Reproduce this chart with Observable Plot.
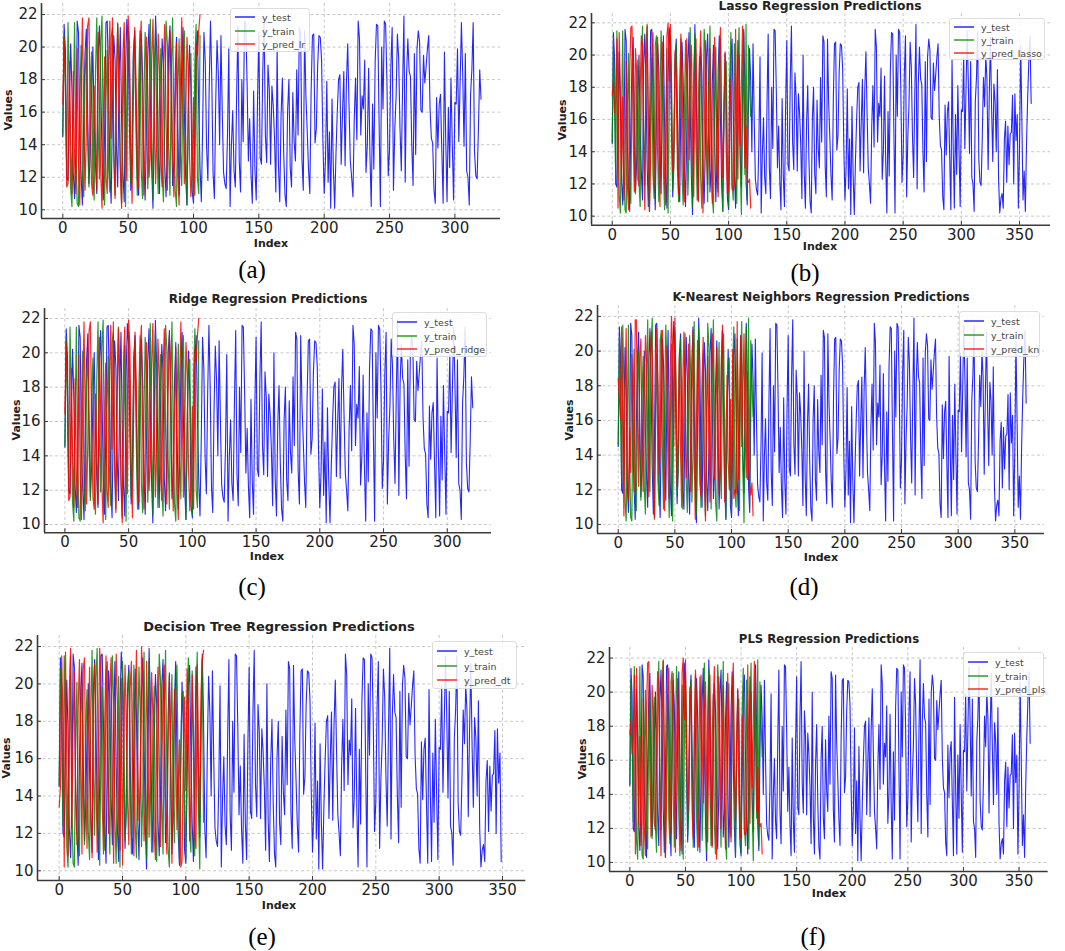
<!DOCTYPE html>
<html>
<head>
<meta charset="utf-8">
<script src="https://cdn.jsdelivr.net/npm/d3@7"></script>
<script src="https://cdn.jsdelivr.net/npm/@observablehq/plot@0.6"></script>
<style>
  html, body { margin: 0; padding: 0; background: #fff; }
  #page { position: relative; width: 1065px; height: 951px; overflow: hidden; background: #fff; font-family: "DejaVu Sans", sans-serif; }
  .ctr { position: absolute; transform: translate(-50%, -50%); white-space: nowrap; }
  .title { font-weight: bold; color: #222; }
  .axlab { font-weight: bold; color: #222; font-size: 11px; }
  .sub { font-family: "Liberation Serif", "Times New Roman", serif; font-size: 25px; color: #000; }
  .legend { position: absolute; background: rgba(255,255,255,0.85); border: 1px solid #ddd; border-radius: 3px; box-sizing: border-box; }
  .sw { position: absolute; left: 4px; }
  .lt { position: absolute; left: 31px; transform: translateY(-50%); font-size: 9.5px; color: #444; white-space: nowrap; }
</style>
</head>
<body>
<div id="page"></div>
<script>
// ---------- data (estimated) ----------
const yTest = [
  14.5, 21.4, 19.8, 12.0, 11.8, 16.4, 20.2, 17.4, 12.3, 10.7,
  13.6, 21.6, 20.9, 14.2, 12.1, 10.3, 15.8, 19.6, 21.1, 16.0,
  11.6, 13.4, 17.2, 20.0, 15.3, 12.8, 11.0, 19.4, 21.3, 18.1,
  13.2, 10.6, 14.8, 21.5, 21.6, 17.8, 12.4, 10.4, 16.2, 20.7,
  19.2, 14.0, 11.4, 17.9, 21.2, 15.6, 12.2, 10.5, 18.6, 21.7,
  20.4, 15.1, 11.2, 13.8, 19.7, 21.0, 16.5, 11.9, 10.9, 17.3,
  20.8, 18.4, 13.0, 10.6, 14.9, 19.5, 21.4, 16.8, 12.5, 10.1,
  15.4, 21.9, 19.3, 13.6, 11.0, 16.7, 20.5, 18.9, 12.7, 10.8,
  14.1, 19.9, 21.3, 17.0, 11.5, 12.9, 18.3, 20.6, 15.2, 10.9,
  13.3, 19.0, 21.2, 16.1, 12.0, 10.3, 15.9, 20.1, 17.6, 11.1,
  10.4, 14.6, 19.8, 21.0, 16.3, 12.6, 10.5, 15.0, 20.9, 19.1,
  13.9, 11.8, 17.5, 21.6, 18.0, 12.2, 10.7, 16.6, 20.4, 18.4,
  14.0, 20.7, 16.1, 12.3, 11.6, 11.3, 14.5, 19.9, 10.2, 13.9,
  16.1, 12.4, 11.4, 17.0, 21.3, 13.0, 11.1, 18.0, 14.2, 21.6,
  21.5, 17.8, 13.0, 15.6, 12.2, 10.4, 17.3, 12.5, 10.6, 16.8,
  20.9, 13.2, 12.8, 18.5, 21.8, 14.6, 12.9, 18.9, 17.4, 12.8,
  17.6, 16.4, 14.4, 11.1, 20.0, 12.7, 10.5, 15.8, 18.1, 13.6,
  10.9, 10.2, 16.1, 18.0, 12.6, 11.4, 17.2, 14.2, 13.0, 18.6,
  14.6, 21.2, 20.8, 13.1, 11.2, 21.0, 17.0, 14.9, 12.5, 11.0,
  17.3, 20.7, 20.8, 14.1, 15.0, 18.9, 20.7, 20.6, 19.2, 14.3,
  11.0, 13.1, 17.9, 11.7, 14.8, 10.1, 16.8, 12.6, 10.1, 13.4,
  16.0, 18.0, 18.3, 12.8, 15.9, 18.5, 12.7, 17.8, 20.2, 16.4,
  13.0, 12.0, 10.8, 15.6, 18.1, 14.3, 21.6, 20.5, 14.6, 17.0,
  16.2, 19.2, 12.3, 14.0, 18.7, 13.4, 10.2, 16.5, 12.5, 19.1,
  21.4, 21.3, 15.4, 10.2, 20.0, 16.2, 21.6, 21.4, 17.9, 12.1,
  13.7, 18.8, 21.2, 11.2, 14.9, 16.9, 20.8, 19.3, 15.0, 12.4,
  17.6, 21.9, 11.7, 18.2, 20.5, 18.5, 18.2, 14.0, 11.5, 19.6,
  13.4, 19.9, 21.0, 20.3, 16.1, 16.0, 19.5, 17.8, 18.8, 19.9,
  20.7, 16.2, 14.4, 14.1, 11.2, 10.4, 16.9, 13.8, 16.5, 17.1,
  13.6, 10.4, 19.7, 14.3, 10.5, 16.3, 12.6, 18.1, 14.1, 10.6,
  16.6, 16.5, 19.9, 14.2, 17.8, 21.5, 18.3, 13.9, 19.6, 12.4,
  12.0, 10.3, 17.1, 18.6, 21.5, 13.6, 12.1, 11.9, 14.9, 18.6,
  16.8, 20.0, 18.5, 12.9, 17.5, 21.1, 16.7, 13.4, 18.2, 17.1,
  14.0, 19.1, 12.3, 10.2, 11.1, 11.4, 10.5, 14.8, 15.9, 12.1,
  15.6, 13.2, 15.1, 15.2, 17.5, 12.0, 17.6, 14.7, 16.3, 10.5,
  14.2, 20.6, 16.0, 11.0, 12.8, 10.3, 14.5, 17.4, 19.6, 21.2,
  17.0
];

const yTrain = [
  14.6, 20.8, 17.2, 12.4, 21.5, 18.0, 11.3, 10.2, 15.9, 21.5,
  13.7, 10.4, 10.2, 16.8, 20.1, 12.2, 10.8, 18.2, 20.0, 14.3,
  11.4, 17.6, 19.7, 12.1, 10.6, 18.4, 21.8, 15.2, 11.9, 20.3,
  21.9, 13.5, 10.3, 16.7, 19.8, 12.6, 11.1, 20.6, 21.2, 14.0,
  10.9, 17.3, 21.5, 19.0, 12.8, 10.4, 15.5, 20.4, 10.2, 16.9,
  21.2, 18.3, 11.6, 13.1, 19.4, 20.7, 14.8, 10.9, 17.7, 21.0,
  12.5, 10.7, 16.4, 20.9, 18.6, 11.3, 13.9, 21.7, 15.0, 10.6,
  18.8, 21.3, 14.4, 11.0, 17.1, 19.9, 12.3, 10.5, 16.0, 21.6,
  20.2, 13.8, 10.9, 18.5, 21.8, 15.3, 11.2, 10.2, 17.4, 20.5,
  13.6, 11.5, 19.3, 21.0, 14.7, 10.3, 16.2, 19.5, 19.6, 13.4,
  10.6, 18.9, 21.4, 12.0, 11.0, 20.7, 16.6, 10.8, 19.1, 21.7,
  13.2, 10.1, 17.8, 21.4, 12.6, 21.9, 11.0, 20.6, 18.3, 16.2
];

const yPredLr = [
  16.5, 20.6, 17.8, 11.4, 11.6, 19.1, 14.2, 11.0, 18.5, 12.9,
  11.0, 19.9, 13.0, 10.3, 17.4, 21.8, 16.2, 11.2, 14.8, 21.3,
  21.8, 15.9, 11.6, 10.9, 17.6, 14.0, 11.2, 20.9, 16.8, 12.3,
  10.1, 15.6, 19.4, 12.0, 11.0, 18.7, 21.6, 14.4, 21.8, 13.1,
  10.7, 17.9, 21.4, 16.6, 12.5, 10.1, 19.6, 21.5, 15.2, 11.8,
  21.9, 20.3, 13.7, 10.4, 16.8, 21.2, 18.1, 12.6, 11.3, 20.0,
  21.6, 15.4, 10.9, 14.2, 20.6, 17.3, 12.0, 13.5, 19.2, 21.7,
  16.0, 11.6, 14.9, 20.8, 18.5, 12.8, 11.4, 19.0, 21.4, 15.6,
  11.2, 17.7, 21.0, 19.2, 13.4, 10.8, 16.2, 20.3, 12.1, 10.3,
  18.0, 21.8, 17.1, 11.6, 15.4, 20.6, 18.8, 13.2, 10.8, 12.5,
  16.9, 10.9, 20.2, 19.5, 21.0, 22.0
];

// the ridge panel's red line is indistinguishable from the linear one
const yPredRidge = yPredLr.slice();

const yPredLasso = [
  17.5, 18.3, 16.4, 17.2, 21.0, 10.5, 21.4, 17.0, 12.2, 17.4,
  11.0, 12.3, 19.6, 12.0, 10.4, 18.9, 21.7, 21.8, 15.0, 11.5,
  20.4, 19.0, 12.3, 11.9, 17.8, 21.2, 20.6, 14.1, 10.4, 18.3,
  21.8, 16.7, 10.3, 13.5, 20.0, 21.4, 15.2, 11.7, 19.0, 21.1,
  14.6, 10.6, 16.9, 20.8, 17.5, 12.4, 10.7, 21.2, 22.0, 18.4,
  21.9, 16.6, 12.8, 14.8, 20.3, 18.7, 13.0, 11.4, 17.1, 21.3,
  19.5, 12.7, 10.9, 16.3, 21.0, 17.7, 13.5, 18.9, 20.6, 15.3,
  11.2, 17.4, 21.0, 14.2, 10.9, 19.4, 21.5, 16.0, 10.2, 14.6,
  20.9, 17.2, 12.0, 15.8, 20.4, 13.7, 10.8, 18.2, 21.1, 17.6,
  12.9, 11.2, 19.8, 21.7, 15.5, 12.4, 17.0, 20.2, 13.8, 11.4,
  11.5, 18.6, 17.0, 11.7, 11.6, 12.0, 21.6, 16.1, 12.3, 20.0,
  14.4, 18.2, 21.8, 17.5, 13.0, 15.6, 12.3, 12.1, 12.3, 10.5
];

const yPredKn = [
  18.4, 17.3, 16.1, 21.4, 15.4, 10.5, 17.8, 21.3, 12.6, 11.4,
  15.6, 13.0, 19.8, 17.3, 11.9, 21.8, 21.8, 16.4, 12.2, 19.6,
  20.7, 14.8, 11.9, 17.5, 20.9, 19.4, 15.2, 11.6, 18.8, 21.1,
  19.6, 12.8, 10.4, 16.5, 21.3, 18.0, 12.9, 14.6, 20.6, 21.2,
  13.7, 10.8, 17.0, 20.3, 16.4, 11.5, 19.2, 22.0, 20.1, 14.5,
  21.9, 17.0, 12.2, 16.0, 19.9, 14.1, 11.0, 18.3, 21.1, 16.8,
  12.7, 13.9, 20.4, 18.1, 11.9, 16.7, 21.2, 14.3, 10.3, 15.8,
  20.6, 17.9, 12.4, 11.6, 18.5, 20.8, 13.3, 10.2, 16.2, 19.7,
  15.0, 11.3, 17.4, 21.0, 18.6, 12.6, 14.8, 20.2, 16.3, 11.8,
  13.4, 19.6, 21.5, 16.9, 11.3, 14.9, 18.6, 13.7, 12.0, 17.2,
  11.2, 20.1, 11.5, 12.0, 11.8, 21.7, 12.6, 16.0, 20.8, 14.5,
  17.6, 21.0, 15.4, 12.7, 18.8, 13.2, 12.3, 11.7, 12.4, 10.5
];

const yPredDt = [
  13.4, 14.5, 21.5, 17.8, 10.2, 21.7, 16.2, 10.8, 19.6, 21.9,
  12.3, 17.8, 20.6, 14.2, 11.4, 18.7, 21.3, 16.9, 10.9, 20.8,
  21.4, 14.6, 11.2, 17.2, 20.9, 12.8, 10.7, 19.4, 21.1, 15.3,
  11.0, 16.8, 21.9, 20.2, 13.5, 10.9, 18.1, 21.5, 16.4, 12.0,
  19.8, 21.4, 14.8, 10.4, 17.7, 21.6, 18.9, 12.5, 11.1, 20.3,
  10.3, 16.6, 21.0, 18.2, 13.6, 11.4, 19.7, 21.2, 15.1, 10.8,
  17.9, 21.8, 16.3, 12.7, 14.4, 22.0, 20.5, 11.6, 13.2, 21.2,
  17.0, 11.8, 15.7, 20.6, 18.3, 12.1, 10.6, 17.4, 20.9, 16.0,
  11.3, 14.7, 19.8, 21.0, 13.9, 10.9, 16.5, 20.4, 17.3, 10.4,
  15.2, 19.7, 16.8, 12.2, 14.5, 17.0, 10.2, 10.5, 16.1, 19.3,
  14.3, 20.8, 18.5, 11.6, 13.8, 20.5, 17.6, 12.0, 11.2, 21.0,
  15.7, 13.1, 19.6, 21.3, 21.8
];

// PLS panel's red line follows the lasso one closely
const yPredPls = yPredLasso.slice();

const yTicks = [10, 12, 14, 16, 18, 20, 22];
const xTicks300 = [0, 50, 100, 150, 200, 250, 300];
const xTicks350 = [0, 50, 100, 150, 200, 250, 300, 350];

const seriesLabels = ["y_test", "y_train"];
const seriesColors = ["#0000ff", "#008a00", "#ff0000"];

// ---------- layout of the six panels ----------
const panels = [
  { frame: {L: 41, T: 3, R: 500, B: 218}, xDomain: [-16.3, 334.9], yDomain: [9.465, 22.676], xTicks: xTicks300,
    nTest: 321, nTrain: 106, pred: yPredLr, predLabel: "y_pred_lr", title: null, titleSize: 12,
    legend: {x: 230, y: 8, w: 80, h: 44}, index: [271, 243], values: [8, 110], sub: "(a)", subPos: [252, 270] },
  { frame: {L: 591, T: 13.3, R: 1050, B: 225}, xDomain: [-17.8, 376.6], yDomain: [9.44, 22.58], xTicks: xTicks350,
    nTest: 361, nTrain: 120, pred: yPredLasso, predLabel: "y_pred_lasso", title: "Lasso Regression Predictions", titlePos: [820, 6], titleSize: 12.3,
    legend: {x: 949, y: 18, w: 96, h: 42}, index: [820, 246], values: [562, 120], sub: "(b)", subPos: [805, 273] },
  { frame: {L: 44, T: 307.7, R: 491, B: 532}, xDomain: [-16.0, 334.7], yDomain: [9.52, 22.58], xTicks: xTicks300,
    nTest: 321, nTrain: 106, pred: yPredRidge, predLabel: "y_pred_ridge", title: "Ridge Regression Predictions", titlePos: [268, 299], titleSize: 12,
    legend: {x: 392, y: 312, w: 95, h: 45}, index: [267, 556], values: [16, 420], sub: "(c)", subPos: [252, 587] },
  { frame: {L: 597, T: 305, R: 1044, B: 533}, xDomain: [-18.3, 376.2], yDomain: [9.48, 22.63], xTicks: xTicks350,
    nTest: 361, nTrain: 120, pred: yPredKn, predLabel: "y_pred_kn", title: "K-Nearest Neighbors Regression Predictions", titlePos: [821, 297], titleSize: 11.9,
    legend: {x: 959, y: 311, w: 81, h: 46}, index: [821, 557], values: [569, 420], sub: "(d)", subPos: [804, 587] },
  { frame: {L: 36.7, T: 635, R: 525, B: 880}, xDomain: [-17.1, 368.4], yDomain: [9.48, 22.59], xTicks: xTicks350,
    nTest: 350, nTrain: 115, pred: yPredDt, predLabel: "y_pred_dt", title: "Decision Tree Regression Predictions", titlePos: [279, 626], titleSize: 13,
    legend: {x: 432, y: 641, w: 85, h: 48}, index: [279, 905], values: [6, 758], sub: "(e)", subPos: [262, 937] },
  { frame: {L: 609.3, T: 646.7, R: 1048, B: 870.7}, xDomain: [-18.3, 376.2], yDomain: [9.47, 22.62], xTicks: xTicks350,
    nTest: 361, nTrain: 120, pred: yPredPls, predLabel: "y_pred_pls", title: "PLS Regression Predictions", titlePos: [829, 639], titleSize: 11.7,
    legend: {x: 963, y: 652, w: 81, h: 45}, index: [829, 893], values: [582, 759], sub: "(f)", subPos: [813, 937] }
];

const page = document.getElementById("page");
const SVGNS = "http://www.w3.org/2000/svg";

function addText(text, cls, x, y, extra = {}) {
  const d = document.createElement("div");
  d.className = "ctr " + cls;
  d.textContent = text;
  d.style.left = x + "px";
  d.style.top = y + "px";
  Object.assign(d.style, extra);
  page.appendChild(d);
  return d;
}

for (const p of panels) {
  const {L, T, R, B} = p.frame;
  const mL = 36, mR = 16, mT = 6, mB = 22;
  const fw = R - L, fh = B - T;
  const W = fw + mL + mR, H = fh + mT + mB;

  const test = yTest.slice(0, p.nTest).map((v, i) => ({i, v}));
  const train = yTrain.slice(0, p.nTrain).map((v, i) => ({i, v}));
  const pred = p.pred.map((v, i) => ({i, v}));

  const svg = Plot.plot({
    width: W, height: H,
    marginLeft: mL, marginRight: mR, marginTop: mT, marginBottom: mB,
    x: {domain: p.xDomain},
    y: {domain: p.yDomain},
    style: {fontFamily: "DejaVu Sans", fontSize: "15px", color: "#222", background: "transparent", overflow: "visible"},
    marks: [
      Plot.gridX({ticks: p.xTicks, stroke: "#a8a8a8", strokeOpacity: 0.8, strokeDasharray: "3,2.5", strokeWidth: 0.8}),
      Plot.gridY({ticks: yTicks, stroke: "#a8a8a8", strokeOpacity: 0.8, strokeDasharray: "3,2.5", strokeWidth: 0.8}),
      Plot.line(test, {x: "i", y: "v", stroke: seriesColors[0], strokeWidth: 1.1, strokeOpacity: 0.85}),
      Plot.line(train, {x: "i", y: "v", stroke: seriesColors[1], strokeWidth: 1.2, strokeOpacity: 0.85}),
      Plot.line(pred, {x: "i", y: "v", stroke: seriesColors[2], strokeWidth: 1.2, strokeOpacity: 0.85}),
      Plot.ruleY([p.yDomain[0]], {stroke: "#3a3a3a", strokeWidth: 1.6}),
      Plot.ruleX([p.xDomain[0]], {stroke: "#3a3a3a", strokeWidth: 1.6}),
      Plot.tickX(p.xTicks, {x: d => d, insetTop: fh - 4, stroke: "#3a3a3a"}),
      Plot.tickY(yTicks, {y: d => d, insetRight: fw - 4, stroke: "#3a3a3a"}),
      Plot.axisX({ticks: p.xTicks, tickSize: 0, tickPadding: 4, label: null, fontSize: 15}),
      Plot.axisY({ticks: yTicks, tickSize: 0, tickPadding: 4, label: null, fontSize: 15})
    ]
  });
  svg.style.position = "absolute";
  svg.style.left = (L - mL) + "px";
  svg.style.top = (T - mT) + "px";
  page.appendChild(svg);

  if (p.title) addText(p.title, "title", p.titlePos[0], p.titlePos[1], {fontSize: p.titleSize + "px"});
  addText("Index", "axlab", p.index[0], p.index[1]);
  addText("Values", "axlab", p.values[0], p.values[1], {transform: "translate(-50%, -50%) rotate(-90deg)"});
  addText(p.sub, "sub", p.subPos[0], p.subPos[1]);

  // legend
  const lg = document.createElement("div");
  lg.className = "legend";
  Object.assign(lg.style, {left: p.legend.x + "px", top: p.legend.y + "px", width: p.legend.w + "px", height: p.legend.h + "px"});
  const labels = [seriesLabels[0], seriesLabels[1], p.predLabel];
  labels.forEach((lab, k) => {
    const cy = p.legend.h * [0.19, 0.5, 0.8][k];
    const sw = document.createElementNS(SVGNS, "svg");
    sw.setAttribute("class", "sw");
    sw.setAttribute("width", "20");
    sw.setAttribute("height", "4");
    sw.style.top = (cy - 2) + "px";
    const ln = document.createElementNS(SVGNS, "line");
    ln.setAttribute("x1", "0"); ln.setAttribute("x2", "20");
    ln.setAttribute("y1", "2"); ln.setAttribute("y2", "2");
    ln.setAttribute("stroke", seriesColors[k]);
    ln.setAttribute("stroke-width", "1.8");
    ln.setAttribute("stroke-opacity", "0.7");
    sw.appendChild(ln);
    const t = document.createElement("div");
    t.className = "lt";
    t.textContent = lab;
    t.style.top = cy + "px";
    lg.appendChild(sw);
    lg.appendChild(t);
  });
  page.appendChild(lg);
}
</script>
</body>
</html>
